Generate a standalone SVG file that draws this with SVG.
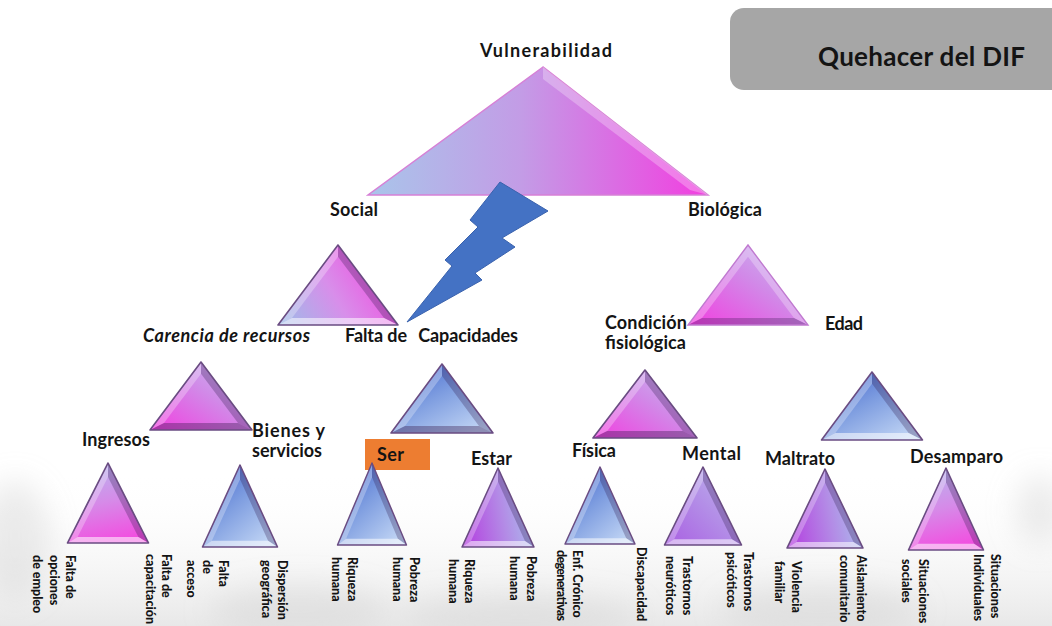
<svg xmlns="http://www.w3.org/2000/svg" xmlns:xlink="http://www.w3.org/1999/xlink" width="1052" height="626" viewBox="0 0 1052 626">
<style>
.h{font-family:Lato,"Liberation Sans",sans-serif;font-weight:700;font-size:18px;fill:#141414}
.it{font-style:italic}
.ttl{font-size:26px}
.v{font-family:Lato,"Liberation Sans",sans-serif;font-weight:900;font-size:12.5px;fill:#141414}
.hl{fill:#ffffff;fill-opacity:.28}
.dk{fill:#2a1448;fill-opacity:.28}
.glow{fill:#ffffff;fill-opacity:.55}
.shade{fill:#3a1e4e;fill-opacity:.38}
.edge{fill:none;stroke:#6a4c82;stroke-width:1.6;vector-effect:non-scaling-stroke;stroke-linejoin:round}
</style>
<defs>
<filter id="blur" x="-50%" y="-50%" width="200%" height="200%"><feGaussianBlur stdDeviation="14"/></filter>
<linearGradient id="bgGrad" x1="0" y1="0" x2="0" y2="1">
<stop offset="0" stop-color="#ffffff" stop-opacity="0"/>
<stop offset="1" stop-color="#e8e8e8" stop-opacity="1"/>
</linearGradient>
<linearGradient id="gTop" x1="0" y1="0" x2="1" y2="0">
<stop offset="0" stop-color="#a9c5ea"/>
<stop offset="0.45" stop-color="#c39ce6"/>
<stop offset="1" stop-color="#f23ee0"/>
</linearGradient>
<linearGradient id="gL2a" x1="0" y1="0.9" x2="1" y2="0.5">
<stop offset="0" stop-color="#9fbae8"/>
<stop offset="0.5" stop-color="#d88eea"/>
<stop offset="1" stop-color="#f04ee0"/>
</linearGradient>
<linearGradient id="gMagLav" x1="0" y1="1" x2="1" y2="0">
<stop offset="0" stop-color="#f23ee0"/>
<stop offset="0.55" stop-color="#d18ae8"/>
<stop offset="1" stop-color="#c6c2f2"/>
</linearGradient>
<linearGradient id="gBlue" x1="0" y1="0" x2="0.8" y2="1">
<stop offset="0" stop-color="#3c5fcc"/>
<stop offset="0.5" stop-color="#7e9de0"/>
<stop offset="1" stop-color="#c0d4f4"/>
</linearGradient>
<linearGradient id="gPink" x1="0.3" y1="0" x2="0.5" y2="1">
<stop offset="0" stop-color="#b8b4ee"/>
<stop offset="0.5" stop-color="#d68ae8"/>
<stop offset="1" stop-color="#f24ee0"/>
</linearGradient>
<linearGradient id="gPurBlue" x1="0" y1="0.6" x2="1" y2="0.4">
<stop offset="0" stop-color="#b444e0"/>
<stop offset="0.55" stop-color="#b38ce6"/>
<stop offset="1" stop-color="#a9c4ee"/>
</linearGradient>
<linearGradient id="gPurple" x1="0" y1="1" x2="1" y2="0">
<stop offset="0" stop-color="#a95ee2"/>
<stop offset="0.6" stop-color="#b596e8"/>
<stop offset="1" stop-color="#c2c6f0"/>
</linearGradient>
<polygon id="tri2" points="0,0 -60,80 60,80"/>
<polygon id="b2l" points="0,0 -60,80 -46,73 0,11.7"/>
<polygon id="b2r" points="0,0 60,80 46,73 0,11.7"/>
<polygon id="b2b" points="-60,80 60,80 46,73 -46,73"/>
<polygon id="tri3" points="0,0 -51,68 51,68"/>
<polygon id="b3l" points="0,0 -51,68 -37,61 0,11.7"/>
<polygon id="b3r" points="0,0 51,68 37,61 0,11.7"/>
<polygon id="b3b" points="-51,68 51,68 37,61 -37,61"/>
<polygon id="tri4" points="0,0 -38,80 38,80"/>
<polygon id="b4l" points="0,0 -38,80 -28.5,74 0,14"/>
<polygon id="b4r" points="0,0 38,80 28.5,74 0,14"/>
<polygon id="b4b" points="-38,80 38,80 28.5,74 -28.5,74"/>
</defs>

<rect x="0" y="0" width="1052" height="626" fill="#ffffff"/>
<g id="background">
<rect x="0" y="470" width="1052" height="156" fill="url(#bgGrad)"/>
<g filter="url(#blur)" fill="#cccccc" fill-opacity="0.35">
<ellipse cx="15" cy="540" rx="35" ry="60"/>
<ellipse cx="300" cy="610" rx="90" ry="25"/>
<ellipse cx="520" cy="615" rx="120" ry="20"/>
<ellipse cx="820" cy="610" rx="100" ry="25"/>
<ellipse cx="1040" cy="510" rx="25" ry="35"/>
</g>
</g>

<g id="title">
<rect x="730" y="8" width="340" height="82" rx="14" fill="#a6a6a6"/>
<text class="h ttl" x="818" y="66" textLength="207">Quehacer del DIF</text>
</g>

<g id="n-vulnerabilidad">
<polygon points="543,67 368,195 708,195" fill="url(#gTop)" stroke="#d680d6" stroke-width="1.5"/>
<polygon points="543,67 708,195 690,190 543,79" fill="#ffffff" fill-opacity="0.28"/>
<text class="h" x="480" y="57" textLength="132">Vulnerabilidad</text>
</g>
<g id="n-social">
<text class="h" x="330" y="216" textLength="48">Social</text>
</g>
<g id="n-biologica">
<text class="h" x="688" y="216" textLength="74">Biológica</text>
</g>

<g id="n-social-tri" transform="translate(338,245)">
<use href="#tri2" fill="url(#gL2a)"/>
<use href="#b2l" class="hl"/><use href="#b2r" class="dk"/><use href="#b2b" class="glow"/>
<use href="#tri2" class="edge"/>
</g>
<g id="n-bio-tri" transform="translate(748,245)">
<use href="#tri2" fill="url(#gMagLav)"/>
<use href="#b2l" class="hl"/><use href="#b2r" class="hl"/><use href="#b2b" class="dk"/>
<use href="#tri2" fill="none" stroke="#c07ad0" stroke-width="1.4"/>
</g>

<g id="connectors">
<polygon points="500,182 548,211 502,238 515,247 475,273 482,280 407,322 452,266 445,260 478,227 470,220" fill="#4472c4" stroke="#3a62ad" stroke-width="1"/>
</g>

<g id="n-carencia">
<text class="h it" x="143" y="342" textLength="167">Carencia de recursos</text>
</g>
<g id="n-falta">
<text class="h" x="345" y="342"><tspan x="345" textLength="62">Falta de</tspan><tspan x="414" textLength="104"> Capacidades</tspan></text>
</g>
<g id="n-condicion">
<text class="h" x="605" y="329" textLength="82">Condición</text>
<text class="h" x="605" y="349" textLength="81">fisiológica</text>
</g>
<g id="n-edad">
<text class="h" x="825" y="330" textLength="38">Edad</text>
</g>

<g id="n-carencia-tri" transform="translate(201,362)">
<use href="#tri3" fill="url(#gMagLav)"/>
<use href="#b3l" class="hl"/><use href="#b3r" class="dk"/><use href="#b3b" class="shade"/>
<use href="#tri3" class="edge"/>
</g>
<g id="n-falta-tri" transform="translate(442,364) scale(1,1.015)">
<use href="#tri3" fill="url(#gBlue)"/>
<use href="#b3l" class="hl"/><use href="#b3r" class="dk"/><use href="#b3b" class="shade"/>
<use href="#tri3" class="edge"/>
</g>
<g id="n-condicion-tri" transform="translate(645,370) scale(1.02,1)">
<use href="#tri3" fill="url(#gMagLav)"/>
<use href="#b3l" class="hl"/><use href="#b3r" class="dk"/><use href="#b3b" class="shade"/>
<use href="#tri3" class="edge"/>
</g>
<g id="n-edad-tri" transform="translate(872,372) scale(0.99,1)">
<use href="#tri3" fill="url(#gBlue)"/>
<use href="#b3l" class="hl"/><use href="#b3r" class="dk"/><use href="#b3b" class="glow"/>
<use href="#tri3" class="edge"/>
</g>

<g id="n-ingresos"><text class="h" x="82" y="446" textLength="68">Ingresos</text></g>
<g id="n-bienes">
<text class="h" x="252" y="437" textLength="73">Bienes  y</text>
<text class="h" x="252" y="457" textLength="70">servicios</text>
</g>
<g id="n-ser">
<rect x="365" y="439" width="65" height="31" fill="#ed7d31"/>
<text class="h" x="377" y="461" textLength="27">Ser</text>
</g>
<g id="n-estar"><text class="h" x="471" y="465" textLength="41">Estar</text></g>
<g id="n-fisica"><text class="h" x="572" y="457" textLength="44">Física</text></g>
<g id="n-mental"><text class="h" x="682" y="460" textLength="59">Mental</text></g>
<g id="n-maltrato"><text class="h" x="765" y="465" textLength="70">Maltrato</text></g>
<g id="n-desamparo"><text class="h" x="910" y="463" textLength="93">Desamparo</text></g>

<g id="n-ingresos-tri" transform="translate(108,463) scale(1.066,1)">
<use href="#tri4" fill="url(#gPink)"/>
<use href="#b4l" class="hl"/><use href="#b4r" class="dk"/><use href="#b4b" class="glow"/>
<use href="#tri4" class="edge"/>
</g>
<g id="n-bienes-tri" transform="translate(240,465) scale(0.987,1.025)">
<use href="#tri4" fill="url(#gBlue)"/>
<use href="#b4l" class="hl"/><use href="#b4r" class="dk"/><use href="#b4b" class="glow"/>
<use href="#tri4" class="edge"/>
</g>
<g id="n-ser-tri" transform="translate(372,463) scale(0.908,1.025)">
<use href="#tri4" fill="url(#gBlue)"/>
<use href="#b4l" class="hl"/><use href="#b4r" class="dk"/><use href="#b4b" class="glow"/>
<use href="#tri4" class="edge"/>
</g>
<g id="n-estar-tri" transform="translate(498,468) scale(0.947,0.988)">
<use href="#tri4" fill="url(#gPurBlue)"/>
<use href="#b4l" class="hl"/><use href="#b4r" class="dk"/><use href="#b4b" class="glow"/>
<use href="#tri4" class="edge"/>
</g>
<g id="n-fisica-tri" transform="translate(600,467) scale(0.921,0.963)">
<use href="#tri4" fill="url(#gBlue)"/>
<use href="#b4l" class="hl"/><use href="#b4r" class="dk"/><use href="#b4b" class="glow"/>
<use href="#tri4" class="edge"/>
</g>
<g id="n-mental-tri" transform="translate(703,467) scale(1.013,0.975)">
<use href="#tri4" fill="url(#gPurple)"/>
<use href="#b4l" class="hl"/><use href="#b4r" class="dk"/><use href="#b4b" class="glow"/>
<use href="#tri4" class="edge"/>
</g>
<g id="n-maltrato-tri" transform="translate(825,469) scale(1,0.988)">
<use href="#tri4" fill="url(#gPurBlue)"/>
<use href="#b4l" class="hl"/><use href="#b4r" class="dk"/><use href="#b4b" class="glow"/>
<use href="#tri4" class="edge"/>
</g>
<g id="n-desamparo-tri" transform="translate(946,468) scale(0.987,1.025)">
<use href="#tri4" fill="url(#gPink)"/>
<use href="#b4l" class="hl"/><use href="#b4r" class="dk"/><use href="#b4b" class="glow"/>
<use href="#tri4" class="edge"/>
</g>

<g id="leaf-labels">
<text class="v" transform="translate(66,555) rotate(90)"><tspan x="0" y="0">Falta de</tspan><tspan x="0" y="16.5">opciones</tspan><tspan x="0" y="33">de empleo</tspan></text>
<text class="v" transform="translate(162,554) rotate(90)"><tspan x="0" y="0">Falta de</tspan><tspan x="0" y="16.5">capacitación</tspan></text>
<text class="v" transform="translate(219,560) rotate(90)"><tspan x="0" y="0">Falta</tspan><tspan x="0" y="16">de</tspan><tspan x="0" y="32">acceso</tspan></text>
<text class="v" transform="translate(278,560) rotate(90)"><tspan x="0" y="0">Dispersión</tspan><tspan x="0" y="16.5">geográfica</tspan></text>
<text class="v" transform="translate(348,557) rotate(90)"><tspan x="0" y="0">Riqueza</tspan><tspan x="0" y="16">humana</tspan></text>
<text class="v" transform="translate(410,557) rotate(90)"><tspan x="0" y="0">Pobreza</tspan><tspan x="0" y="17">humana</tspan></text>
<text class="v" transform="translate(465,559) rotate(90)"><tspan x="0" y="0">Riqueza</tspan><tspan x="0" y="16">humana</tspan></text>
<text class="v" transform="translate(527,556) rotate(90)"><tspan x="0" y="0">Pobreza</tspan><tspan x="0" y="17">humana</tspan></text>
<text class="v" transform="translate(573,550) rotate(90)"><tspan x="0" y="0">Enf. Crónico</tspan><tspan x="0" y="16" textLength="71">degenerativas</tspan></text>
<text class="v" transform="translate(637,547) rotate(90)"><tspan x="0" y="0">Discapacidad</tspan></text>
<text class="v" transform="translate(683,556) rotate(90)"><tspan x="0" y="0">Trastornos</tspan><tspan x="0" y="17">neuróticos</tspan></text>
<text class="v" transform="translate(744,552) rotate(90)"><tspan x="0" y="0">Trastornos</tspan><tspan x="0" y="17">psicóticos</tspan></text>
<text class="v" transform="translate(792,561) rotate(90)"><tspan x="0" y="0">Violencia</tspan><tspan x="0" y="17">familiar</tspan></text>
<text class="v" transform="translate(857,555) rotate(90)"><tspan x="0" y="0">Aislamiento</tspan><tspan x="0" y="17">comunitario</tspan></text>
<text class="v" transform="translate(919,559) rotate(90)"><tspan x="0" y="0">Situaciones</tspan><tspan x="0" y="17">sociales</tspan></text>
<text class="v" transform="translate(991,554) rotate(90)"><tspan x="0" y="0">Situaciones</tspan><tspan x="0" y="17">Individuales</tspan></text>
</g>
</svg>
